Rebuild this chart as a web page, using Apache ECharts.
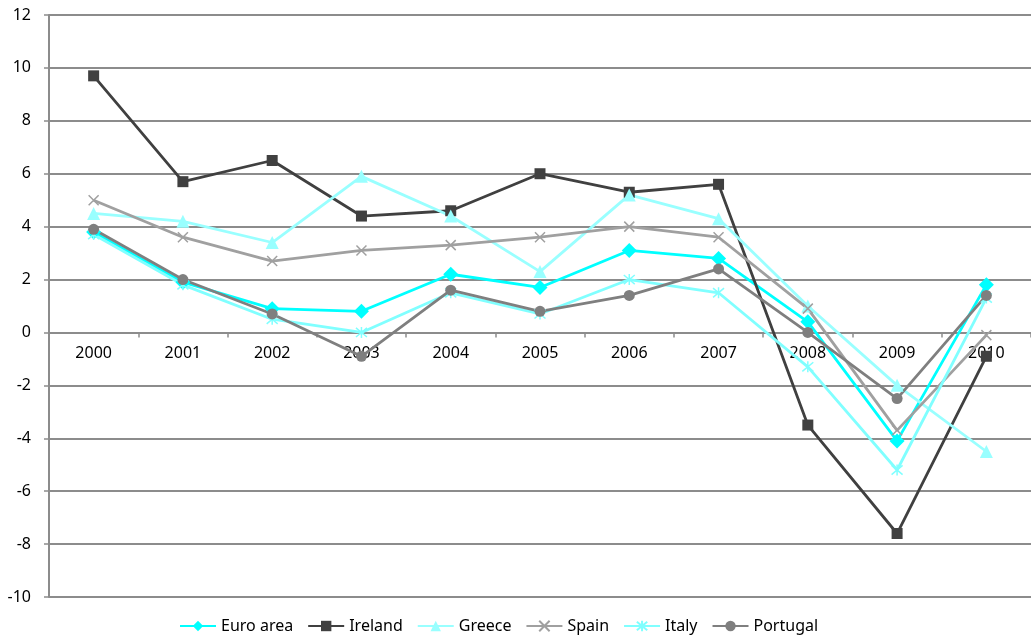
<!DOCTYPE html>
<html>
<head>
<meta charset="utf-8">
<script src="https://cdn.jsdelivr.net/npm/echarts@6/dist/echarts.min.js"></script>
<style>
  html, body { margin: 0; padding: 0; background: #fff; }
  #chart { width: 1031px; height: 642px; }
</style>
</head>
<body>
<div id="chart"></div>
<script>
const years = ["2000", "2001", "2002", "2003", "2004", "2005", "2006", "2007", "2008", "2009", "2010"];

const euroArea = [3.8, 1.9, 0.9, 0.8, 2.2, 1.7, 3.1, 2.8, 0.4, -4.1, 1.8];
const ireland  = [9.7, 5.7, 6.5, 4.4, 4.6, 6.0, 5.3, 5.6, -3.5, -7.6, -0.9];
const greece   = [4.5, 4.2, 3.4, 5.9, 4.4, 2.3, 5.2, 4.3, 1.0, -2.0, -4.5];
const spain    = [5.0, 3.6, 2.7, 3.1, 3.3, 3.6, 4.0, 3.6, 0.9, -3.7, -0.1];
const italy    = [3.7, 1.8, 0.5, 0.0, 1.5, 0.7, 2.0, 1.5, -1.3, -5.2, 1.3];
const portugal = [3.9, 2.0, 0.7, -0.9, 1.6, 0.8, 1.4, 2.4, 0.0, -2.5, 1.4];

const crossPath = "path://M0,0L10,10M10,0L0,10";
const starPath = "path://M0,0L10,10M10,0L0,10M5,-1L5,11";

const font = "Noto Sans";

const makeSeries = (name, data, color, symbol, size, stroked) => ({
    name: name,
    type: "line",
    data: data,
    symbol: symbol,
    symbolSize: size,
    showAllSymbol: true,
    lineStyle: { color: color, width: 2.8 },
    itemStyle: stroked
        ? { color: "rgba(0,0,0,0)", borderColor: color, borderWidth: 1.5 }
        : { color: color },
    emphasis: { disabled: true }
});

const chart = echarts.init(document.getElementById("chart"));

// grid bottom edge at y=597, value 0 sits at about y=332
const zeroOffset = -(597 - 332.5);

chart.setOption({
    animation: false,
    textStyle: { fontFamily: font },
    legend: {
        bottom: 3,
        left: 174,
        itemWidth: 36,
        itemHeight: 13,
        itemGap: 14,
        textStyle: { fontSize: 16, color: "#000", fontFamily: font }
    },
    grid: { left: 49, right: 0, top: 15, bottom: 45 },
    xAxis: {
        type: "category",
        data: years,
        boundaryGap: true,
        position: "bottom",
        offset: zeroOffset,
        axisLine: { onZero: false, lineStyle: { color: "#8c8c8c", width: 2 } },
        axisTick: { show: true, length: 5, inside: false, lineStyle: { color: "#8c8c8c", width: 1.5 } },
        axisLabel: { color: "#000", fontSize: 16, margin: 13, fontFamily: font },
        splitLine: { show: false }
    },
    yAxis: {
        type: "value",
        min: -10,
        max: 12,
        interval: 2,
        axisLine: { show: true, lineStyle: { color: "#8c8c8c", width: 2 } },
        axisTick: { show: true, length: 5, lineStyle: { color: "#8c8c8c", width: 1.5 } },
        axisLabel: { color: "#000", fontSize: 16, margin: 18, fontFamily: font },
        splitLine: { show: true, lineStyle: { color: "#8c8c8c", width: 2 } }
    },
    series: [
        makeSeries("Euro area", euroArea, "#00ffff", "diamond", 15, false),
        makeSeries("Ireland", ireland, "#404040", "rect", 11, false),
        makeSeries("Greece", greece, "#99ffff", "triangle", 13, false),
        makeSeries("Spain", spain, "#a0a0a0", crossPath, 10, true),
        makeSeries("Italy", italy, "#80ffff", starPath, 11, true),
        makeSeries("Portugal", portugal, "#7f7f7f", "circle", 11, false)
    ]
});
</script>
</body>
</html>
